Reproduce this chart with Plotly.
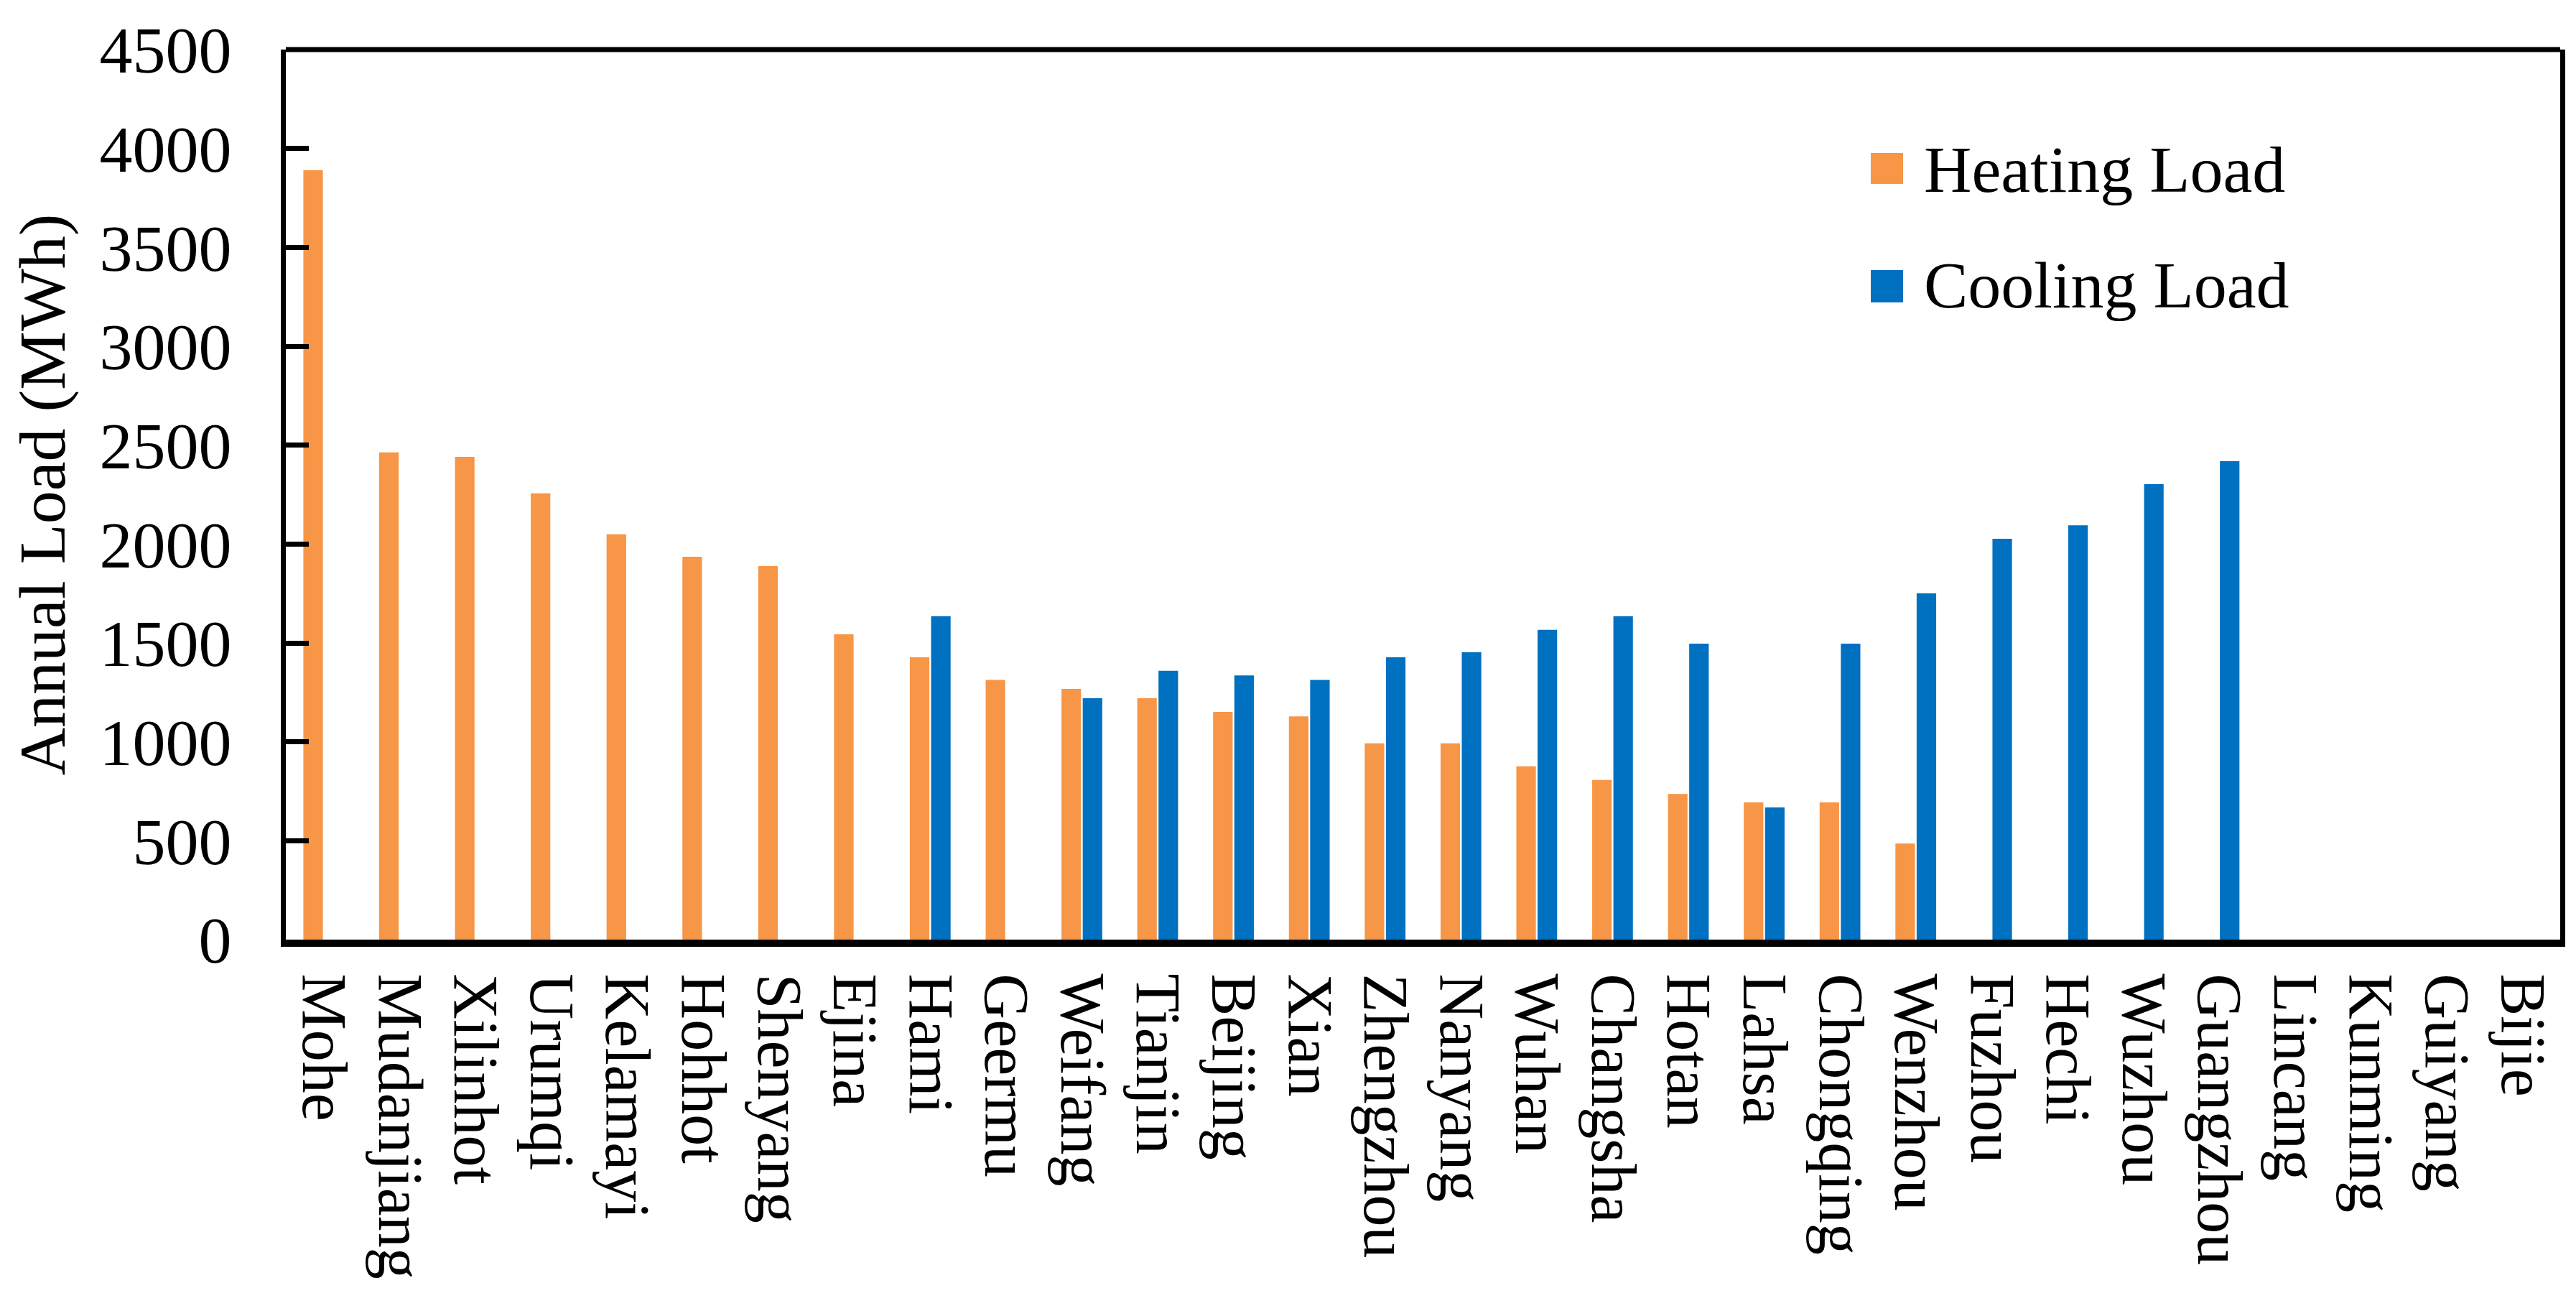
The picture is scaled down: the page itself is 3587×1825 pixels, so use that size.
import plotly.graph_objects as go

cities = ["Mohe", "Mudanjiang", "Xilinhot", "Urumqi", "Kelamayi", "Hohhot", "Shenyang", "Ejina",
          "Hami", "Geermu", "Weifang", "Tianjin", "Beijing", "Xian", "Zhengzhou", "Nanyang",
          "Wuhan", "Changsha", "Hotan", "Lahsa", "Chongqing", "Wenzhou", "Fuzhou", "Hechi",
          "Wuzhou", "Guangzhou", "Lincang", "Kunming", "Guiyang", "Bijie"]
heating = [3890, 2463, 2441, 2256, 2049, 1936, 1889, 1544,
           1427, 1313, 1268, 1220, 1151, 1129, 992, 992,
           876, 807, 736, 694, 694, 486, 0, 0,
           0, 0, 0, 0, 0, 0]
cooling = [0, 0, 0, 0, 0, 0, 0, 0,
           1635, 0, 1220, 1359, 1336, 1313, 1427, 1453,
           1566, 1635, 1496, 668, 1496, 1751, 2027, 2095,
           2303, 2419, 0, 0, 0, 0]
y_ticks = [0, 500, 1000, 1500, 2000, 2500, 3000, 3500, 4000, 4500]
series_names = ["Heating Load", "Cooling Load"]
colors = ["#F79646", "#0070C0"]

FONT = "Liberation Serif, Times New Roman, serif"
FS = 92

fig = go.Figure()
fig.add_trace(go.Bar(x=cities, y=heating, name=series_names[0], marker_color=colors[0],
                     marker_line_width=0, showlegend=False))
fig.add_trace(go.Bar(x=cities, y=cooling, name=series_names[1], marker_color=colors[1],
                     marker_line_width=0, showlegend=False))

W, H = 3587, 1825
ml, mr, mt, mb = 390, 30, 61, 525
fig.update_layout(
    width=W, height=H,
    margin=dict(l=ml, r=mr, t=mt, b=mb, pad=0),
    paper_bgcolor="white", plot_bgcolor="white",
    barmode="group", bargap=0.44, bargroupgap=0.08,
    font=dict(family=FONT, size=FS, color="black"),
    showlegend=False,
)
fig.update_xaxes(
    type="category", tickangle=90, showgrid=False, ticks="",
    tickmode="array", tickvals=cities, ticktext=cities,
    showline=True, linecolor="black", linewidth=10,
    tickfont=dict(family=FONT, size=88, color="black"),
    ticklabelstandoff=20,
)
fig.update_yaxes(
    range=[0, 4500], tickvals=y_ticks, showgrid=False, zeroline=False,
    showline=True, linecolor="black", linewidth=7, mirror=True,
    ticks="inside", ticklen=32, tickwidth=7, tickcolor="black",
    tickfont=dict(family=FONT, size=FS, color="black"),
    ticklabelstandoff=50,
    title=dict(text="Annual Load (MWh)", font=dict(family=FONT, size=FS, color="black"), standoff=28),
)
# top frame line
fig.add_shape(type="line", xref="paper", yref="paper", x0=0, x1=1, y0=1, y1=1,
              line=dict(color="black", width=7))

# manual legend
pw, ph = W - ml - mr, H - mt - mb
def px_x(v):
    return (v - ml) / pw
def px_y(v):
    return (H - mb - v) / ph

rows = [(205, 248, 228), (368, 413, 389)]
for (t, b, c), name, col in zip(rows, series_names, colors):
    fig.add_shape(type="rect", xref="paper", yref="paper",
                  x0=px_x(2597), x1=px_x(2642), y0=px_y(b), y1=px_y(t),
                  fillcolor=col, line=dict(width=0))
    fig.add_annotation(xref="paper", yref="paper", x=px_x(2669), y=px_y(c),
                       text=name, showarrow=False, xanchor="left", yanchor="middle",
                       font=dict(family=FONT, size=FS, color="black"))

fig.write_html("out.html")
